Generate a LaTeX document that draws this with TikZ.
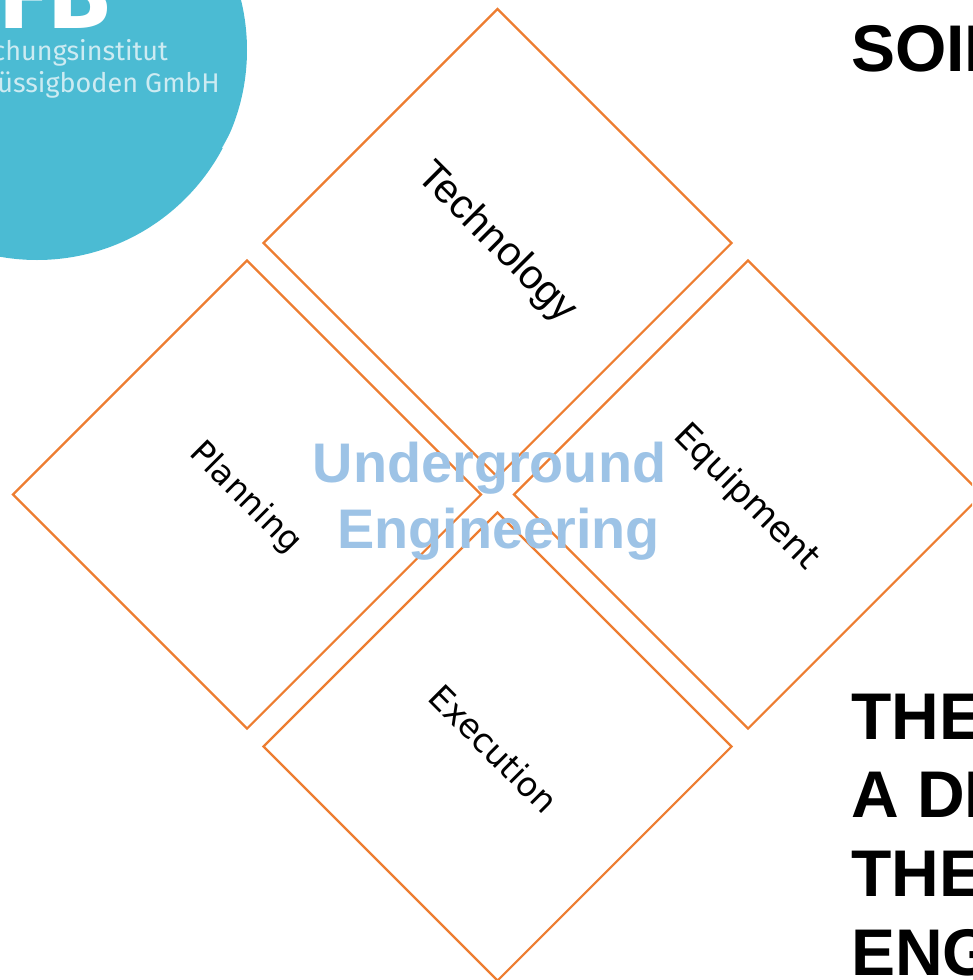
\documentclass[tikz,border=0pt]{standalone}
\usepackage{fontspec}
\setmainfont{Liberation Sans}
\newfontfamily\labelfont{DejaVu Sans}
\newfontfamily\logofont{Fira Sans}
\usetikzlibrary{shapes.geometric}
\definecolor{edgeorange}{HTML}{ED7D31}
\definecolor{titleblue}{HTML}{9DC3E6}
\definecolor{logoblue}{HTML}{4BBBD3}
\definecolor{logotext}{HTML}{CDEBF2}
\tikzset{
  petal/.style={shape=diamond,aspect=1,draw=edgeorange,line width=2.2pt,inner sep=0pt,minimum width=469pt,minimum height=469pt},
  petallabel/.style={rotate=-45,text=black,inner sep=0pt,anchor=center},
  title/.style={font=\fontsize{55.8pt}{66pt}\selectfont\bfseries,text=titleblue,align=center,inner sep=0pt},
  bigtext/.style={font=\fontsize{66pt}{78pt}\selectfont\bfseries,text=black,inner sep=0pt,anchor=base west},
  logoline/.style={font=\logofont\fontsize{27pt}{27pt}\selectfont,text=logotext,inner sep=0pt,anchor=base east},
}
\begin{document}
\begin{tikzpicture}[x=1pt,y=-1pt]
\useasboundingbox (0,0) rectangle (972,980);
\clip (0,0) rectangle (972,980);
% logo
\fill[logoblue] (37,50) circle[radius=210];
\fill[white,opacity=.9] (222,148) -- (232,130) -- (232,148) -- cycle;
\node[font=\logofont\bfseries\fontsize{100pt}{100pt}\selectfont,text=white,inner sep=0pt,anchor=base east] (logofb) at (110,28) {FB};
\node[logoline] (logoa) at (168,60) {Forschungsinstitut};
\node[logoline] (logob) at (220,92) {Flüssigboden GmbH};
% diamonds
\node[petal] (tech) at (497.5,243) {};
\node[petal] (plan) at (247,494.5) {};
\node[petal] (equip) at (748,494.5) {};
\node[petal] (exec) at (497.5,746.5) {};
% labels
\node[petallabel,font=\fontsize{41pt}{41pt}\selectfont] (techl) at (496.5,243) {Technology};
\node[petallabel,font=\labelfont\fontsize{33pt}{33pt}\selectfont] (planl) at (245,498) {Planning};
\node[petallabel,font=\labelfont\fontsize{35pt}{35pt}\selectfont] (equipl) at (746,497.5) {Equipment};
\node[petallabel,font=\labelfont\fontsize{33.6pt}{33.6pt}\selectfont] (execl) at (494,748.5) {Execution};
% centre title
\node[title] (centre) at (489.5,501) {Underground\\\hspace{18pt}Engineering};
% right text
\node[bigtext] (soil) at (851,71) {SOIL};
\node[bigtext] (t1) at (851,739.5) {THE};
\node[bigtext] (t2) at (851,817.5) {A DI};
\node[bigtext] (t3) at (851,896.5) {THE};
\node[bigtext] (t4) at (851,975) {ENG};
\end{tikzpicture}
\end{document}
